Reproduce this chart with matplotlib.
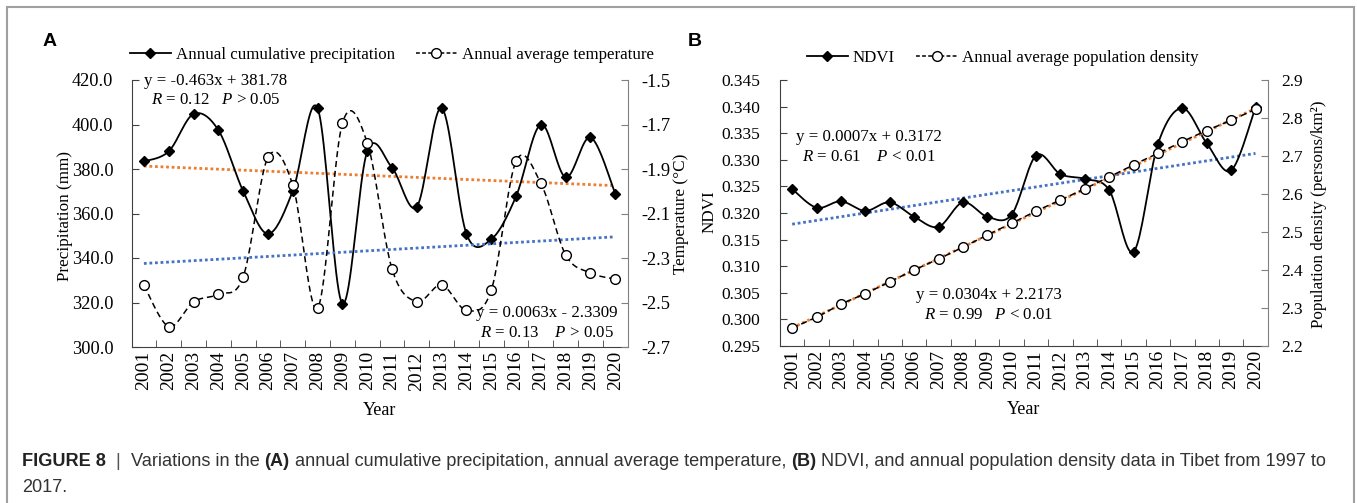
import numpy as np
import matplotlib
matplotlib.use("Agg")
import matplotlib.pyplot as plt
from matplotlib.lines import Line2D
from matplotlib.patches import Rectangle

# data
years = list(range(2001, 2021))
precip = [383.4, 387.9, 404.7, 397.5, 370.1, 350.9, 370.1, 407.4, 319.5, 387.9,
          380.6, 363.1, 407.4, 350.9, 348.4, 367.7, 400.0, 376.3, 394.2, 368.9]
temp = [-2.422, -2.608, -2.497, -2.463, -2.385, -1.848, -1.972, -2.526, -1.695, -1.781,
        -2.349, -2.496, -2.421, -2.535, -2.445, -1.865, -1.964, -2.286, -2.367, -2.395]
ndvi = [0.3245, 0.3210, 0.3222, 0.3204, 0.3220, 0.3193, 0.3174, 0.3220, 0.3193, 0.3197,
        0.3308, 0.3273, 0.3264, 0.3243, 0.3127, 0.3330, 0.3397, 0.3331, 0.3280, 0.3399]
popden = [2.247, 2.276, 2.310, 2.338, 2.369, 2.400, 2.429, 2.460, 2.492, 2.523,
          2.555, 2.584, 2.614, 2.645, 2.677, 2.707, 2.738, 2.767, 2.794, 2.823]

# trend line coefficients (slope, intercept) as printed on the chart
precip_fit = (-0.463, 381.78)
temp_fit = (0.0063, -2.3309)
ndvi_fit = (0.0007, 0.3172)
pop_fit = (0.0304, 2.2173)

SERIF = ["Liberation Serif", "DejaVu Serif"]
plt.rcParams["font.family"] = SERIF
plt.rcParams["font.size"] = 12
plt.rcParams["mathtext.fontset"] = "custom"
plt.rcParams["mathtext.it"] = "Liberation Serif:italic"
plt.rcParams["mathtext.rm"] = "Liberation Serif"

ORANGE = "#ED7D31"
BLUE = "#4472C4"
W, H = 1357, 503


def smooth(x, y, n=20):
    # excel-like smoothed line (catmull-rom through the points)
    x = np.asarray(x, float)
    y = np.asarray(y, float)
    px = np.concatenate([[x[0]], x, [x[-1]]])
    py = np.concatenate([[y[0]], y, [y[-1]]])
    xs, ys = [], []
    t = np.linspace(0, 1, n, endpoint=False)
    for i in range(1, len(px) - 2):
        p0x, p1x, p2x, p3x = px[i - 1], px[i], px[i + 1], px[i + 2]
        p0y, p1y, p2y, p3y = py[i - 1], py[i], py[i + 1], py[i + 2]
        c1x, c1y = p1x + (p2x - p0x) / 6, p1y + (p2y - p0y) / 6
        c2x, c2y = p2x - (p3x - p1x) / 6, p2y - (p3y - p1y) / 6
        b = [(1 - t) ** 3, 3 * (1 - t) ** 2 * t, 3 * (1 - t) * t ** 2, t ** 3]
        xs.append(b[0] * p1x + b[1] * c1x + b[2] * c2x + b[3] * p2x)
        ys.append(b[0] * p1y + b[1] * c1y + b[2] * c2y + b[3] * p2y)
    xs.append([x[-1]])
    ys.append([y[-1]])
    return np.concatenate(xs), np.concatenate(ys)


def ax_rect(l, r, t, b):
    return [l / W, 1 - b / H, (r - l) / W, (b - t) / H]


def ylab(px, py, s):
    fig.text(px / W, 1 - py / H, s, rotation=90, ha="center", va="center", fontsize=12.3)


fig = plt.figure(figsize=(W / 100, H / 100), dpi=100)

# grey frame round the figure
fig.patches.append(Rectangle((7 / W, -0.05), (1354 - 7) / W, 1.05 - 7 / H,
                             transform=fig.transFigure, fill=False,
                             edgecolor="#a0a0a0", lw=1.5))

x = np.arange(1, 21)


def setup_axes(ax, ax2, ylim, yticks, yfmt, ylim2, yticks2, yfmt2, fs, lpad, rpad):
    ax.set_xlim(0.5, 20.5)
    ax.set_ylim(*ylim)
    ax2.set_ylim(*ylim2)
    ax.set_yticks(yticks)
    ax.set_yticklabels([yfmt % v for v in yticks], fontsize=fs)
    ax2.set_yticks(yticks2)
    ax2.set_yticklabels([yfmt2 % v for v in yticks2], fontsize=fs)
    ax.set_xticks(x)
    ax.set_xticklabels([str(y) for y in years], rotation=90, fontsize=14)
    ax.set_xticks(np.arange(0.5, 21, 1), minor=True)
    ax.tick_params(axis="x", which="major", length=0, pad=3)
    ax.tick_params(axis="x", which="minor", direction="in", length=5, color="#404040")
    ax.tick_params(axis="y", direction="in", length=5, color="#404040", pad=lpad)
    ax2.tick_params(axis="y", direction="in", length=5, color="#808080", pad=rpad)
    for a in (ax, ax2):
        a.spines["top"].set_visible(False)
        a.patch.set_alpha(0)
    ax.spines["right"].set_visible(False)
    ax2.spines["left"].set_visible(False)
    ax2.spines["bottom"].set_visible(False)
    ax.spines["left"].set_color("#404040")
    ax.spines["bottom"].set_color("#404040")
    ax2.spines["right"].set_color("#808080")
    ax.set_xlabel("Year", labelpad=8, fontsize=13)


def draw_series(ax, vals, solid):
    sx, sy = smooth(x, vals)
    if solid:
        ax.plot(sx, sy, color="black", lw=1.3, zorder=3)
        ax.plot(x, vals, ls="none", marker="D", ms=5.5, color="black", zorder=4)
    else:
        ax.plot(sx, sy, color="black", lw=1.1, ls=(0, (4, 2.5)), zorder=3)
        ax.plot(x, vals, ls="none", marker="o", ms=7, mfc="white", mec="black",
                mew=1.0, zorder=4)


def legend(ax, lab1, lab2, anchor):
    h1 = Line2D([], [], color="black", lw=1.3, marker="D", ms=5.5)
    h2 = Line2D([], [], color="black", lw=1.1, ls=(0, (2.5, 1.5)), marker="o", ms=7,
                mfc="white", mec="black")
    ax.legend([h1, h2], [lab1, lab2], loc="center", bbox_to_anchor=anchor, ncol=2,
              frameon=False, handlelength=2.4, handletextpad=0.3, columnspacing=1.25,
              numpoints=1, fontsize=12.2, borderaxespad=0, borderpad=0)


# ---------------- panel A ----------------
axA = fig.add_axes(ax_rect(131.5, 627.7, 80, 347))
axA2 = axA.twinx()
setup_axes(axA, axA2, (300, 420), np.arange(300, 421, 20), "%.1f",
           (-2.7, -1.5), np.round(np.arange(-2.7, -1.49, 0.2), 1), "%.1f",
           13.2, 13, 10)
ylab(65, 216, "Precipitation (mm)")
ylab(681, 214, "Temperature (\u00b0C)")

axA.plot(x, precip_fit[0] * x + precip_fit[1], color=ORANGE, lw=2, ls=(0, (1, 1)), zorder=2)
axA2.plot(x, temp_fit[0] * x + temp_fit[1], color=BLUE, lw=2, ls=(0, (1, 1)), zorder=2)
draw_series(axA, precip, True)
draw_series(axA2, temp, False)

axA.text(3.88, 419.5, "y = -0.463x + 381.78", ha="center", va="center", fontsize=12.2)
axA.text(3.88, 411.2, "$R$ = 0.12   $P$ > 0.05", ha="center", va="center", fontsize=12.2)
axA.text(17.24, 315.3, "y = 0.0063x - 2.3309", ha="center", va="center", fontsize=12.2)
axA.text(17.24, 306.3, "$R$ = 0.13    $P$ > 0.05", ha="center", va="center", fontsize=12.2)
legend(axA, "Annual cumulative precipitation", "Annual average temperature",
       (0.525, 1.094))
fig.text(43 / W, 1 - 41 / H, "A", fontsize=14, fontweight="bold",
         family=["Liberation Sans", "DejaVu Sans"], va="center")

# ---------------- panel B ----------------
axB = fig.add_axes(ax_rect(780, 1267.7, 80, 346))
axB2 = axB.twinx()
setup_axes(axB, axB2, (0.295, 0.345), np.round(np.arange(0.295, 0.3451, 0.005), 3), "%.3f",
           (2.2, 2.9), np.round(np.arange(2.2, 2.91, 0.1), 1), "%.1f",
           12.5, 14, 10)
ylab(710, 212, "NDVI")
ylab(1319, 214, "Population density (persons/km\u00b2)")

axB.plot(x, ndvi_fit[0] * x + ndvi_fit[1], color=BLUE, lw=2, ls=(0, (1, 1)), zorder=2)
draw_series(axB, ndvi, True)
axB2.plot(x, pop_fit[0] * x + pop_fit[1], color=ORANGE, lw=2, ls=(0, (1, 1)), zorder=2)
draw_series(axB2, popden, False)

axB.text(4.13, 0.3343, "y = 0.0007x + 0.3172", ha="center", va="center", fontsize=12.2)
axB.text(4.13, 0.3306, "$R$ = 0.61    $P$ < 0.01", ha="center", va="center", fontsize=12.2)
axB.text(9.05, 0.3046, "y = 0.0304x + 2.2173", ha="center", va="center", fontsize=12.2)
axB.text(9.05, 0.3009, "$R$ = 0.99   $P$ < 0.01", ha="center", va="center", fontsize=12.2)
legend(axB, "NDVI", "Annual average population density", (0.457, 1.083))
fig.text(688 / W, 1 - 41 / H, "B", fontsize=14, fontweight="bold",
         family=["Liberation Sans", "DejaVu Sans"], va="center")

# ---------------- caption ----------------
CAP = ["Liberation Sans Narrow", "Liberation Sans", "DejaVu Sans"]
parts = [("FIGURE 8", "bold", "#222222"), ("  |  ", "normal", "#555555"),
         ("Variations in the ", "normal", "#333333"), ("(A)", "bold", "#222222"),
         (" annual cumulative precipitation, annual average temperature, ", "normal", "#333333"),
         ("(B)", "bold", "#222222"),
         (" NDVI, and annual population density data in Tibet from 1997 to", "normal", "#333333")]
renderer = fig.canvas.get_renderer()
xpos = 22
for s, wgt, col in parts:
    t = fig.text(xpos / W, 1 - 461 / H, s, fontsize=13.1, fontweight=wgt, color=col,
                 family=CAP, va="center")
    bb = t.get_window_extent(renderer)
    xpos += bb.width
fig.text(22 / W, 1 - 487 / H, "2017.", fontsize=13.1, color="#333333", family=CAP,
         va="center")

fig.savefig("out.png", dpi=100)
